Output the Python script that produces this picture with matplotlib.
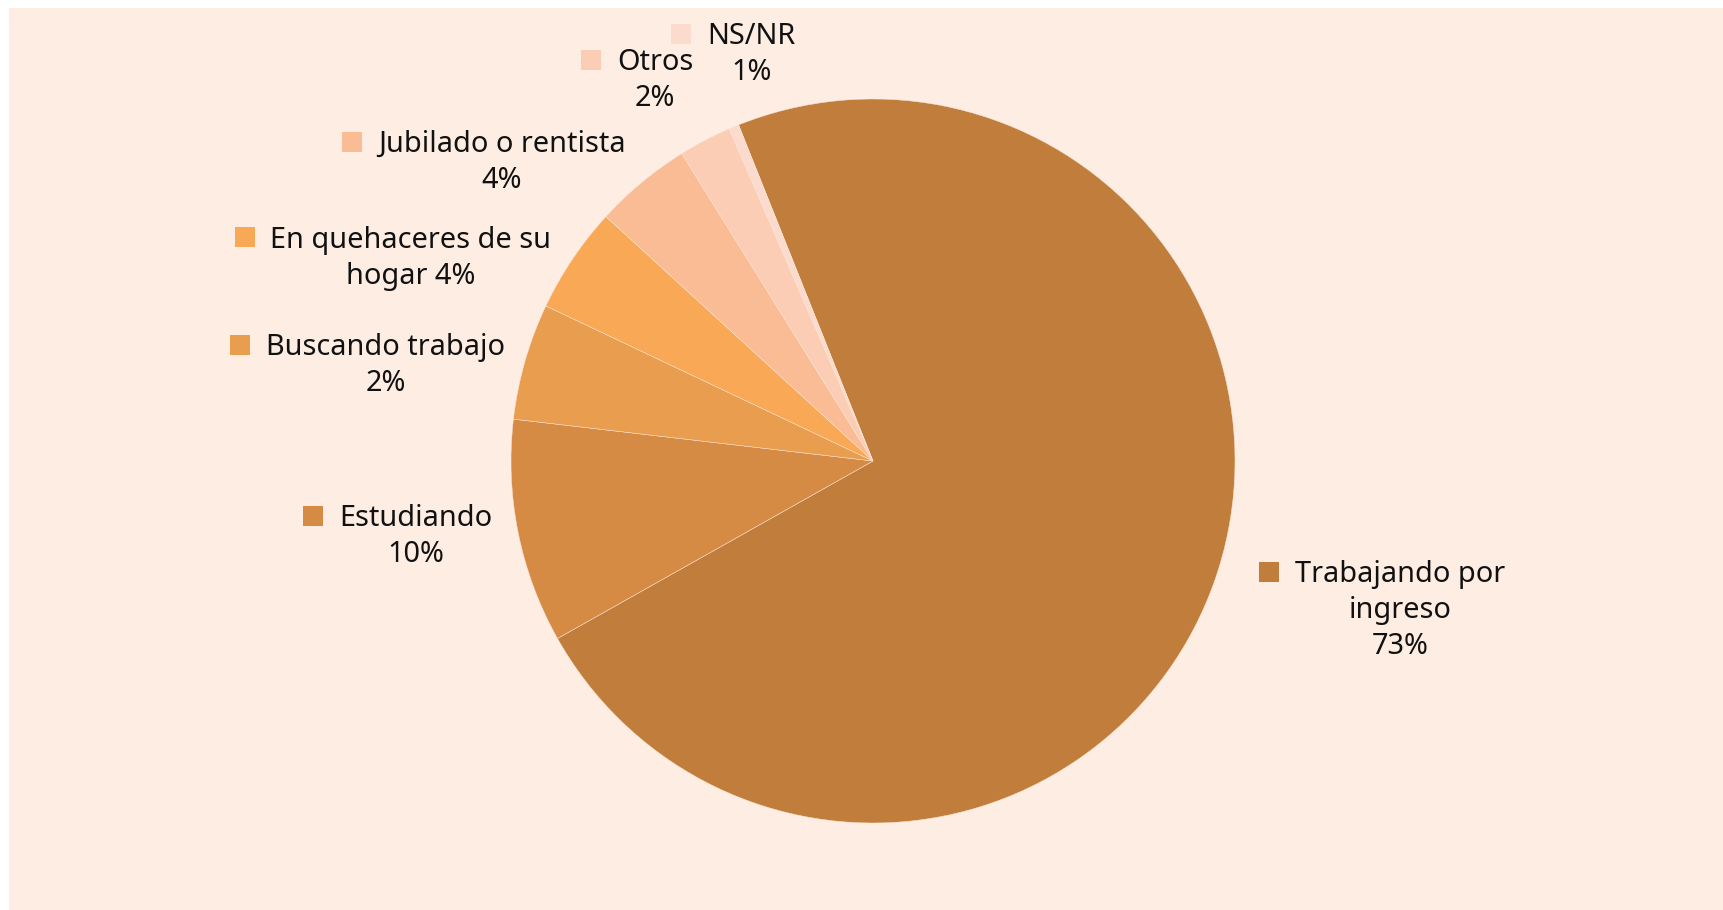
import matplotlib
matplotlib.use("Agg")
import matplotlib.pyplot as plt
from matplotlib.patches import Rectangle

# ---- data ----
categories = ["Trabajando por ingreso", "Estudiando", "Buscando trabajo",
              "En quehaceres de su hogar", "Jubilado o rentista", "Otros", "NS/NR"]
values = [72.9, 10.0, 5.2, 4.75, 4.35, 2.35, 0.45]
label_lines = [["Trabajando por", "ingreso", "73%"],
               ["Estudiando", "10%"],
               ["Buscando trabajo", "2%"],
               ["En quehaceres de su", "hogar 4%"],
               ["Jubilado o rentista", "4%"],
               ["Otros", "2%"],
               ["NS/NR", "1%"]]
colors = ["#C07D3B", "#D68B45", "#E99D4F", "#F9A856", "#FABC94", "#FBCDB5", "#FCDBCF"]

# ---- layout (pixels) ----
W, H = 1723, 910
BG = "#FDEDE2"
cx, cy, R = 873, 461, 362
# label anchors: text centre x, first-line cap-middle y
label_pos = [(1400, 571.7), (416, 516), (385.5, 344.7), (411, 237.4),
             (502, 141.8), (655, 59.7), (751.3, 33.8)]
LINE = 36.2
CAP = 20.5
SQ = 20
GAP = 16

plt.rcParams['font.family'] = ['Noto Sans', 'DejaVu Sans']
fig = plt.figure(figsize=(W / 100, H / 100), dpi=100, facecolor="white")
fig.patches.append(Rectangle((9 / W, 0), 1 - 9 / W, 1 - 8 / H, transform=fig.transFigure,
                             facecolor=BG, edgecolor="none", zorder=-10))

ax = fig.add_axes([(cx - R) / W, (H - cy - R) / H, 2 * R / W, 2 * R / H])
ax.pie(values, colors=colors, startangle=111.8, counterclock=False, radius=1,
       wedgeprops=dict(edgecolor="#FBE3D2", linewidth=0.35))
ax.set_xlim(-1, 1)
ax.set_ylim(-1, 1)
ax.set_aspect("equal")
ax.axis("off")

ov = fig.add_axes([0, 0, 1, 1])
ov.set_xlim(0, W)
ov.set_ylim(H, 0)
ov.axis("off")
ov.patch.set_alpha(0)

fig.canvas.draw()
renderer = fig.canvas.get_renderer()
for lines, (tx, ty), col in zip(label_lines, label_pos, colors):
    first = None
    for i, line in enumerate(lines):
        t = ov.text(tx, ty + CAP / 2 + i * LINE, line, ha="center", va="baseline",
                    fontsize=20.8, color="#111111", fontweight="light")
        if i == 0:
            first = t
    bb = first.get_window_extent(renderer=renderer)
    left = bb.x0
    ov.add_patch(Rectangle((left - GAP - SQ, ty - SQ / 2), SQ, SQ, facecolor=col,
                           edgecolor="none"))

fig.savefig("out.png", dpi=100, facecolor="white")
